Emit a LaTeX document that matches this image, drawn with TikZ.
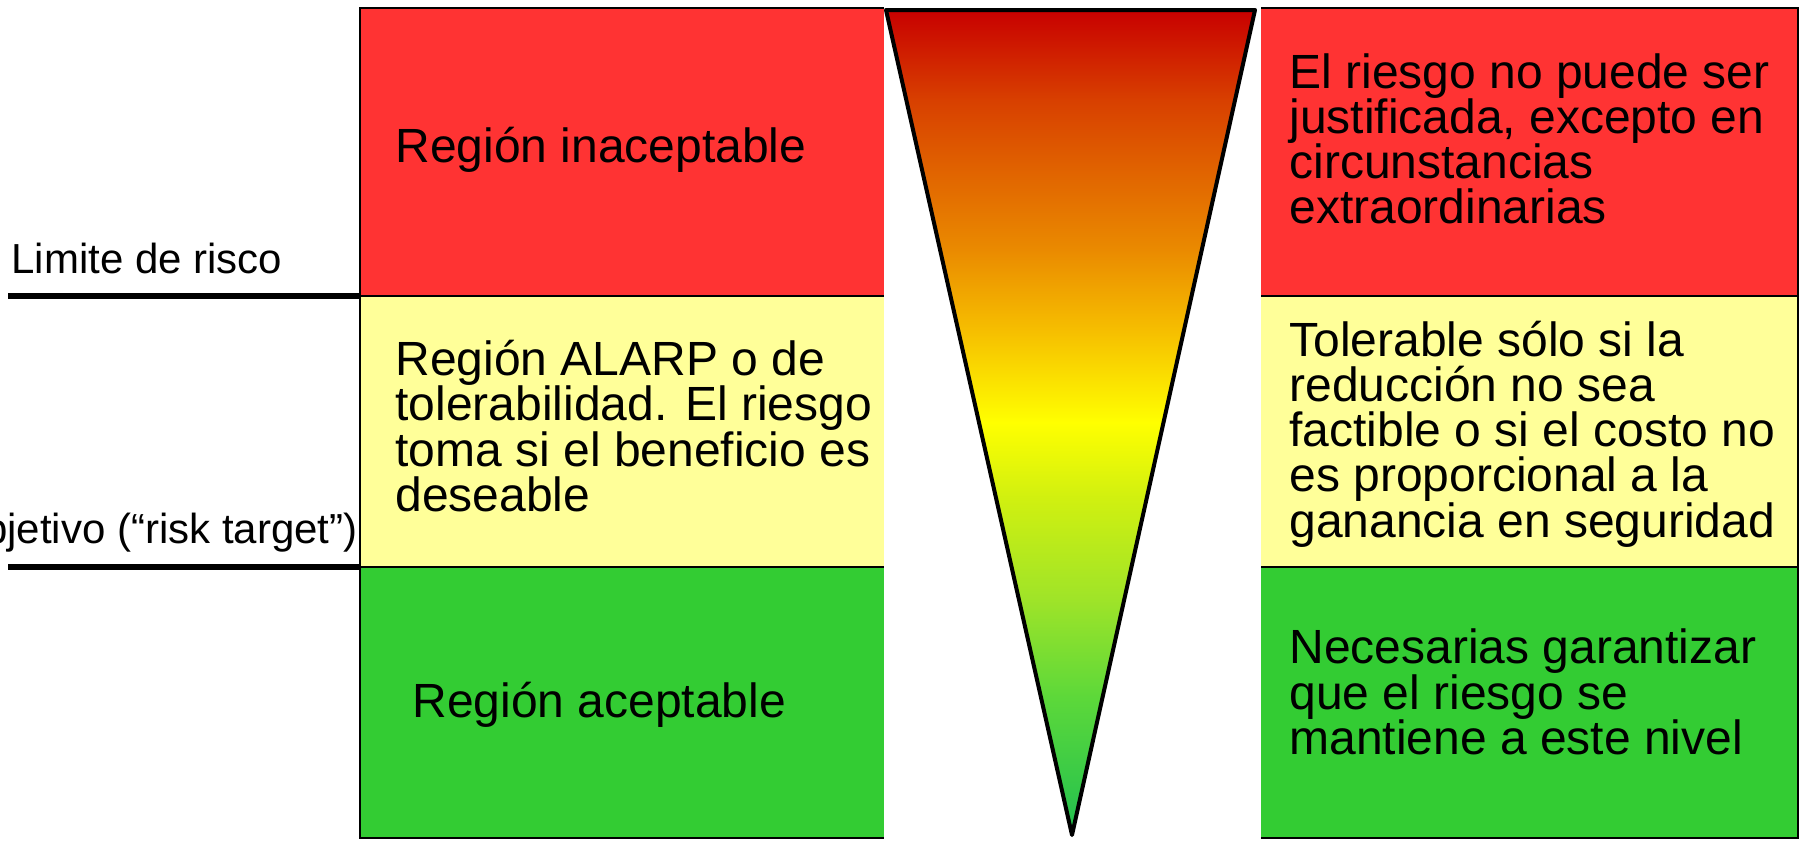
\documentclass[tikz,border=0pt]{standalone}
\usepackage{fontspec}
\setmainfont{Liberation Sans}
\usepackage{tikz}
\definecolor{Rojo}{RGB}{255,51,51}
\definecolor{Amar}{RGB}{255,255,153}
\definecolor{Verd}{RGB}{51,204,51}
\definecolor{Grad1}{RGB}{200,0,0}
\definecolor{Grad2}{RGB}{216,64,0}
\definecolor{Grad3}{RGB}{234,138,0}
\definecolor{Grad4}{RGB}{246,190,0}
\definecolor{Grad5}{RGB}{255,255,0}
\definecolor{Grad6}{RGB}{208,240,16}
\definecolor{Grad7}{RGB}{160,228,40}
\definecolor{Grad8}{RGB}{92,216,58}
\definecolor{Grad9}{RGB}{32,192,80}
\pgfdeclareverticalshading{riesgo}{100bp}{color(0bp)=(Grad9); color(25bp)=(Grad9);
  color(33.3bp)=(Grad8); color(39.4bp)=(Grad7); color(45.4bp)=(Grad6);
  color(50bp)=(Grad5); color(55.6bp)=(Grad4); color(60.5bp)=(Grad3);
  color(69.5bp)=(Grad2); color(75bp)=(Grad1); color(100bp)=(Grad1)}

\begin{document}
\begin{tikzpicture}[x=0.5pt,y=-0.5pt,
    txt/.style={anchor=west,align=left,inner sep=0pt,
                font=\fontsize{24}{22.6}\selectfont},
    lbl/.style={inner sep=0pt,font=\fontsize{21}{24}\selectfont},
    borde/.style={draw=black,line width=1pt},
    limite/.style={line width=3pt}]
    \useasboundingbox (0,0) rectangle (1804,841);
    % las tres regiones
    \filldraw[fill=Rojo,borde] (360,8) rectangle (1798,296);
    \filldraw[fill=Amar,borde] (360,296) rectangle (1798,567);
    \filldraw[fill=Verd,borde] (360,567) rectangle (1798,838);
    \node[txt] (reginac) at (395,150) {Región inaceptable};
    \node[txt] (regalarp) at (395,426) {Región ALARP o de\\tolerabilidad. El riesgo se\\toma si el beneficio es\\deseable};
    \node[txt] (regacep) at (412,705) {Región aceptable};
    \node[txt] (txtinac) at (1289,139) {El riesgo no puede ser\\justificada, excepto en\\circunstancias\\extraordinarias};
    \node[txt] (txttol) at (1289,434) {Tolerable sólo si la\\reducción no sea\\factible o si el costo no\\es proporcional a la\\ganancia en seguridad};
    \node[txt] (txtacep) at (1289,692) {Necesarias garantizar\\que el riesgo se\\mantiene a este nivel};
    % hueco del triangulo
    \fill[white] (884,0) rectangle (1261,841);
    \shade[shading=riesgo,draw=black,line width=2pt,line join=round]
        (886,10) -- (1255,10) -- (1072,835) -- cycle;
    % limites
    \draw[limite] (8,296) -- (360,296);
    \draw[limite] (8,567) -- (360,567);
    \node[lbl,anchor=west] (limrisco) at (11,258) {Limite de risco};
    \node[lbl,anchor=east] (objrisco) at (358,533) {objetivo (“risk target”)};
\end{tikzpicture}
\end{document}
